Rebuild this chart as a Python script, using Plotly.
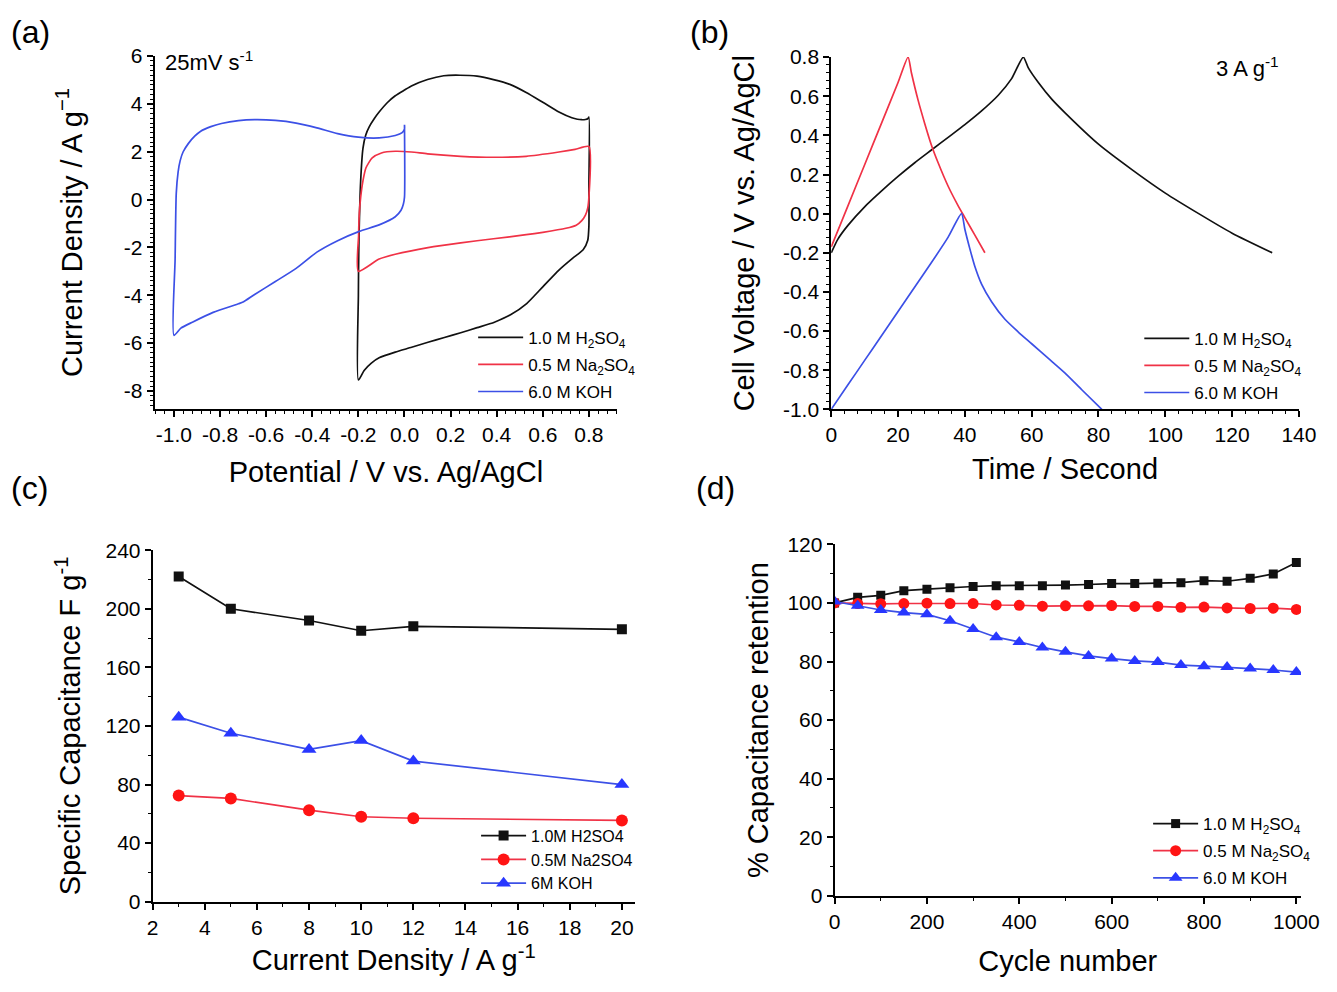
import plotly.graph_objects as go

# ---- data -------------------------------------------------------------
# (a) cyclic voltammograms at 25 mV/s (closed loops)
cv_h2so4_x = [-0.2, -0.2, -0.198, -0.19, -0.18, -0.168, -0.153, -0.13, -0.11, -0.075, -0.04, 0.0,
              0.03, 0.10, 0.17, 0.24, 0.315, 0.386, 0.457, 0.528, 0.60, 0.67, 0.726, 0.75,
              0.769, 0.785, 0.795, 0.80, 0.80, 0.80, 0.795, 0.775, 0.73, 0.67, 0.60, 0.53,
              0.46, 0.39, 0.315, 0.244, 0.173, 0.102, 0.031, -0.04, -0.11, -0.145, -0.175, -0.2]
cv_h2so4_y = [-7.55, -4.0, -1.95, 0.79, 2.15, 2.7, 3.04, 3.4, 3.66, 4.05, 4.34, 4.58,
              4.75, 5.02, 5.18, 5.2, 5.16, 5.02, 4.82, 4.48, 4.07, 3.66, 3.42, 3.36,
              3.34, 3.35, 3.38, 3.45, 0.5, -1.1, -1.7, -2.1, -2.45, -2.95, -3.65, -4.35,
              -4.82, -5.13, -5.36, -5.57, -5.77, -5.97, -6.18, -6.38, -6.62, -6.85, -7.15, -7.55]

cv_na2so4_x = [-0.2, -0.199, -0.196, -0.19, -0.18, -0.167, -0.14, -0.1, -0.04, 0.03, 0.10, 0.244,
               0.386, 0.528, 0.67, 0.74, 0.8, 0.8, 0.795, 0.785, 0.769, 0.745, 0.70, 0.6,
               0.528, 0.386, 0.244, 0.102, -0.04, -0.11, -0.2]
cv_na2so4_y = [-3.0, -1.5, -0.58, 0.1, 0.79, 1.33, 1.74, 1.95, 2.02, 1.99, 1.91, 1.81,
               1.77, 1.81, 1.99, 2.1, 2.22, 0.1, -0.35, -0.65, -0.88, -1.07, -1.2, -1.37,
               -1.47, -1.64, -1.81, -2.01, -2.29, -2.49, -3.0]

cv_koh_x = [-1.0, -0.995, -0.99, -0.982, -0.973, -0.96, -0.937, -0.91, -0.884, -0.84, -0.794, -0.72,
            -0.65, -0.56, -0.47, -0.38, -0.29, -0.2, -0.11, -0.04, -0.01, 0.0, 0.0, 0.0,
            -0.005, -0.015, -0.04, -0.11, -0.196, -0.29, -0.38, -0.47, -0.56, -0.65, -0.7, -0.72,
            -0.83, -0.92, -0.97, -1.0]
cv_koh_y = [-5.68, -2.5, 0.26, 1.15, 1.63, 2.0, 2.35, 2.65, 2.86, 3.05, 3.18, 3.3,
            3.34, 3.31, 3.2, 3.0, 2.76, 2.61, 2.58, 2.68, 2.8, 2.95, 3.13, 0.1,
            -0.2, -0.45, -0.72, -1.06, -1.33, -1.72, -2.2, -2.88, -3.43, -3.97, -4.29, -4.36,
            -4.72, -5.13, -5.38, -5.68]

# (b) galvanostatic charge/discharge at 3 A/g
gcd_h2so4_t = [0, 2, 5, 10, 15, 20, 25, 30, 35, 40, 45, 50, 54, 57.5,
               59, 62, 66, 70, 80, 90, 100, 110, 120, 132]
gcd_h2so4_v = [-0.2, -0.13, -0.06, 0.035, 0.115, 0.19, 0.26, 0.325, 0.39, 0.455, 0.525, 0.605, 0.69, 0.8,
               0.745, 0.67, 0.585, 0.515, 0.355, 0.225, 0.105, 0.0, -0.1, -0.2]
gcd_na2so4_t = [0, 5, 10, 15, 20, 23, 24, 26, 28, 30, 32, 35, 38, 40, 43, 46]
gcd_na2so4_v = [-0.17, 0.04, 0.25, 0.46, 0.67, 0.8, 0.72, 0.58, 0.46, 0.35, 0.26, 0.14, 0.04, -0.02,
                -0.11, -0.2]
gcd_koh_t = [0, 5, 10, 15, 20, 25, 30, 35, 39, 40, 41.5, 43, 45, 48, 52, 56, 60, 65, 70, 75, 81]
gcd_koh_v = [-1.0, -0.875, -0.75, -0.625, -0.5, -0.375, -0.25, -0.12, 0.0, -0.08, -0.18, -0.27,
             -0.36, -0.45, -0.54, -0.605, -0.665, -0.74, -0.815, -0.9, -1.0]

# (c) specific capacitance vs current density
current_density = [3, 5, 8, 10, 12, 20]
cap_h2so4 = [222, 200, 192, 185, 188, 186]
cap_na2so4 = [72.5, 70.5, 62.5, 58, 57, 55.5]
cap_koh = [126, 115, 104, 110, 96, 80]

# (d) capacitance retention vs cycle number
cycles = [0, 50, 100, 150, 200, 250, 300, 350, 400, 450, 500, 550, 600, 650, 700, 750, 800,
          850, 900, 950, 1000]
ret_h2so4 = [100, 101.9, 102.6, 104.2, 104.7, 105.2, 105.6, 105.9, 105.9, 105.9, 106.1, 106.3,
             106.6, 106.6, 106.7, 106.9, 107.6, 107.4, 108.4, 109.9, 113.8]
ret_na2so4 = [100, 99.8, 99.7, 99.8, 99.9, 99.8, 99.8, 99.3, 99.2, 98.9, 99.0, 99.0,
              99.1, 98.8, 98.8, 98.5, 98.6, 98.3, 98.1, 98.2, 97.8]
ret_koh = [100.5, 99.0, 97.6, 96.7, 96.1, 93.9, 91.1, 88.3, 86.7, 84.8, 83.3, 81.9,
           81.0, 80.2, 79.8, 78.8, 78.4, 78.1, 77.6, 77.1, 76.4]

# tick labels (hyphen minus as in the original)
a_x_ticks = [-1.0, -0.8, -0.6, -0.4, -0.2, 0.0, 0.2, 0.4, 0.6, 0.8]
a_x_labels = ["-1.0", "-0.8", "-0.6", "-0.4", "-0.2", "0.0", "0.2", "0.4", "0.6", "0.8"]
a_y_ticks = [-8, -6, -4, -2, 0, 2, 4, 6]
a_y_labels = ["-8", "-6", "-4", "-2", "0", "2", "4", "6"]
b_y_ticks = [-1.0, -0.8, -0.6, -0.4, -0.2, 0.0, 0.2, 0.4, 0.6, 0.8]
b_y_labels = ["-1.0", "-0.8", "-0.6", "-0.4", "-0.2", "0.0", "0.2", "0.4", "0.6", "0.8"]

BLACK = "#111111"
RED = "#f03246"
BLUE = "#3c50e6"
RED_M = "#ff1414"
BLUE_M = "#2837ff"
FONT = "Liberation Sans, Arial, sans-serif"

lbl_h2so4 = "1.0 M H<sub>2</sub>SO<sub>4</sub>"
lbl_na2so4 = "0.5 M Na<sub>2</sub>SO<sub>4</sub>"
lbl_koh = "6.0 M KOH"

fig = go.Figure()

# (a)
for x, y, c, n in [(cv_h2so4_x, cv_h2so4_y, BLACK, lbl_h2so4),
                   (cv_na2so4_x, cv_na2so4_y, RED, lbl_na2so4),
                   (cv_koh_x, cv_koh_y, BLUE, lbl_koh)]:
    fig.add_trace(go.Scatter(x=x, y=y, mode="lines", name=n, legend="legend", legendgroup="a" + n,
                             line=dict(color=c, width=1.7, shape="spline", smoothing=0.6),
                             xaxis="x", yaxis="y"))

# (b)
for x, y, c, n in [(gcd_h2so4_t, gcd_h2so4_v, BLACK, lbl_h2so4),
                   (gcd_na2so4_t, gcd_na2so4_v, RED, lbl_na2so4),
                   (gcd_koh_t, gcd_koh_v, BLUE, lbl_koh)]:
    fig.add_trace(go.Scatter(x=x, y=y, mode="lines", name=n, legend="legend2", legendgroup="b" + n,
                             line=dict(color=c, width=1.7, shape="spline", smoothing=0.6),
                             xaxis="x2", yaxis="y2"))

# (c)
for y, c, lc, sym, sz, n in [(cap_h2so4, BLACK, BLACK, "square", 10, "1.0M H2SO4"),
                             (cap_na2so4, RED_M, RED, "circle", 12, "0.5M Na2SO4"),
                             (cap_koh, BLUE_M, BLUE, "triangle-up", 13, "6M KOH")]:
    fig.add_trace(go.Scatter(x=current_density, y=y, mode="lines+markers", name=n,
                             legend="legend3", legendgroup="c" + n,
                             line=dict(color=lc, width=1.7),
                             marker=dict(color=c, symbol=sym, size=sz),
                             xaxis="x3", yaxis="y3"))

# (d)
for y, c, lc, sym, sz, n in [(ret_h2so4, BLACK, BLACK, "square", 9, lbl_h2so4),
                             (ret_na2so4, RED_M, RED, "circle", 11, lbl_na2so4),
                             (ret_koh, BLUE_M, BLUE, "triangle-up", 12, lbl_koh)]:
    fig.add_trace(go.Scatter(x=cycles, y=y, mode="lines+markers", name=n,
                             legend="legend4", legendgroup="d" + n,
                             line=dict(color=lc, width=1.7),
                             marker=dict(color=c, symbol=sym, size=sz),
                             xaxis="x4", yaxis="y4"))


def ax(domain, rng, title, standoff, minor, anchor, **kw):
    d = dict(domain=domain, range=rng, anchor=anchor,
             showgrid=False, zeroline=False, showline=True, linecolor="black", linewidth=1.8,
             ticks="outside", ticklen=6, tickwidth=1.5, tickcolor="black",
             ticklabeloverflow="allow",
             tickfont=dict(size=21, color="black", family=FONT),
             title=dict(text=title, font=dict(size=29, color="black", family=FONT), standoff=standoff),
             minor=dict(dtick=minor, ticks="outside", ticklen=3, tickwidth=1.2, tickcolor="black"))
    d.update(kw)
    return d


# the page adds an 8 px body margin, so the figure is 16 px smaller than the window
W, H = 1321, 976
OFF = 8
def px_x(a, b):
    return [(a - OFF) / W, (b - OFF) / W]
def px_y(top, bottom):
    return [1 - (bottom - OFF) / H, 1 - (top - OFF) / H]
def fx(x):
    return (x - OFF) / W
def fy(y):
    return 1 - (y - OFF) / H


leg_common = dict(xanchor="left", yanchor="top", bgcolor="rgba(0,0,0,0)", itemwidth=45)

fig.update_layout(
    width=W, height=H, margin=dict(l=0, r=0, t=0, b=0),
    paper_bgcolor="white", plot_bgcolor="white",
    font=dict(family=FONT, color="black"),
    xaxis=ax(px_x(151.3, 622.9), [-1.084, 0.923], "Potential / V vs. Ag/AgCl", 17, 0.04, "y",
             tickvals=a_x_ticks, ticktext=a_x_labels),
    yaxis=ax(px_y(45, 406.1), [-8.75, 6], "Current Density / A g<sup>\u22121</sup>", 33, 0.2, "x",
             tickvals=a_y_ticks, ticktext=a_y_labels),
    xaxis2=ax(px_x(841, 1317.7), [0, 140], "Time / Second", 13, 4, "y2", dtick=20, tick0=0),
    yaxis2=ax(px_y(46, 406.7), [-1.0, 0.8], "Cell Voltage / V vs. Ag/AgCl", 20, 0.04, "x2",
              tickvals=b_y_ticks, ticktext=b_y_labels),
    xaxis3=ax(px_x(149.3, 640.9), [2, 20.5], "Current Density / A g<sup>-1</sup>", 12, 1, "y3",
              dtick=2, tick0=0),
    yaxis3=ax(px_y(551, 911), [0, 240], "Specific Capacitance F g<sup>-1</sup>", 16, 20, "x3",
              dtick=40, tick0=0),
    xaxis4=ax(px_x(844.4, 1319.8), [0, 1010], "Cycle number", 19, 100, "y4", dtick=200, tick0=0),
    yaxis4=ax(px_y(545, 905), [0, 120], "% Capacitance retention", 10, 10, "x4", dtick=20, tick0=0),
    legend=dict(x=fx(476), y=fy(315), font=dict(size=17, color="black", family=FONT),
                tracegroupgap=2, **leg_common),
    legend2=dict(x=fx(1155), y=fy(316), font=dict(size=17, color="black", family=FONT),
                 tracegroupgap=2, **leg_common),
    legend3=dict(x=fx(479), y=fy(826), font=dict(size=16, color="black", family=FONT),
                 tracegroupgap=0, **leg_common),
    legend4=dict(x=fx(1164), y=fy(813), font=dict(size=17, color="black", family=FONT),
                 tracegroupgap=2, **leg_common),
    showlegend=True,
)

panel_labels = [("(a)", 3, 0), ("(b)", 695, 0), ("(c)", 3, 467), ("(d)", 701, 467)]
for t, px0, py0 in panel_labels:
    fig.add_annotation(xref="paper", yref="paper", x=fx(px0), y=fy(py0), xanchor="left", yanchor="top",
                       showarrow=False, text=t, font=dict(size=32, color="black", family=FONT))

fig.add_annotation(xref="paper", yref="paper", x=fx(159.5), y=fy(50), xanchor="left", yanchor="middle",
                   showarrow=False, text="25mV s<sup>-1</sup>",
                   font=dict(size=22, color="black", family=FONT))
fig.add_annotation(xref="paper", yref="paper", x=fx(1231.5), y=fy(56), xanchor="left", yanchor="middle",
                   showarrow=False, text="3 A g<sup>-1</sup>",
                   font=dict(size=22, color="black", family=FONT))

fig.write_html("out.html")
